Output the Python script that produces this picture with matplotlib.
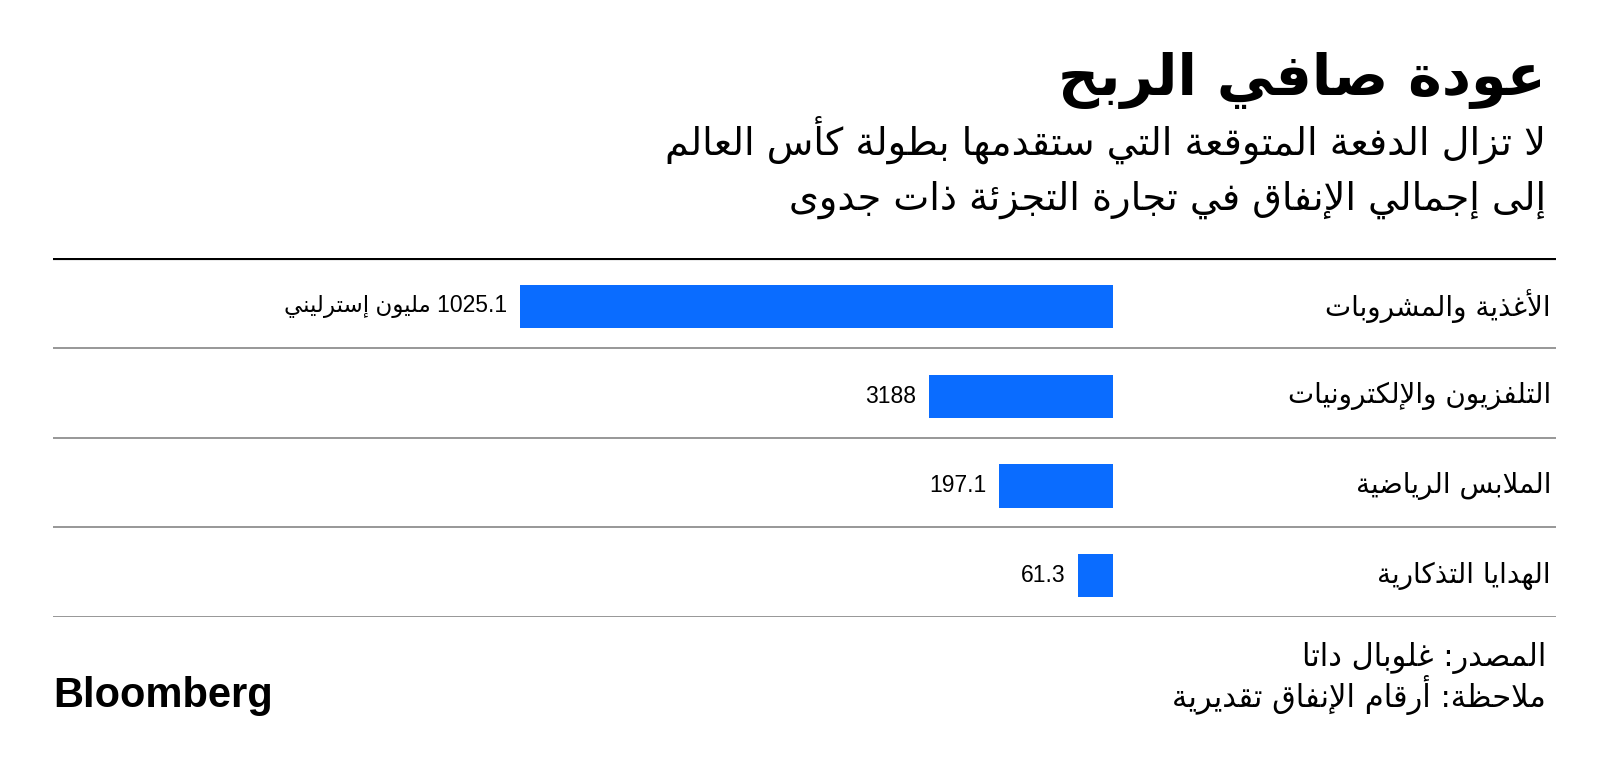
import re
import matplotlib
matplotlib.use("Agg")
import matplotlib.pyplot as plt

categories = ["الأغذية والمشروبات", "التلفزيون والإلكترونيات", "الملابس الرياضية", "الهدايا التذكارية"]
values = [1025.1, 318.8, 197.1, 61.3]
value_labels = ["1025.1 مليون إسترليني", "3188", "197.1", "61.3"]

title = "عودة صافي الربح"
subtitle = ["لا تزال الدفعة المتوقعة التي ستقدمها بطولة كأس العالم",
            "إلى إجمالي الإنفاق في تجارة التجزئة ذات جدوى"]
source = "المصدر: غلوبال داتا"
note = "ملاحظة: أرقام الإنفاق تقديرية"

BLUE = "#0a6cff"

# matplotlib does no arabic shaping / bidi, so map letters to presentation forms by hand
# (char, first presentation form, number of forms)
_table = [
    ("\u0621", 0xFE80, 1), ("\u0622", 0xFE81, 2), ("\u0623", 0xFE83, 2), ("\u0624", 0xFE85, 2),
    ("\u0625", 0xFE87, 2), ("\u0626", 0xFE89, 4), ("\u0627", 0xFE8D, 2), ("\u0628", 0xFE8F, 4),
    ("\u0629", 0xFE93, 2), ("\u062A", 0xFE95, 4), ("\u062B", 0xFE99, 4), ("\u062C", 0xFE9D, 4),
    ("\u062D", 0xFEA1, 4), ("\u062E", 0xFEA5, 4), ("\u062F", 0xFEA9, 2), ("\u0630", 0xFEAB, 2),
    ("\u0631", 0xFEAD, 2), ("\u0632", 0xFEAF, 2), ("\u0633", 0xFEB1, 4), ("\u0634", 0xFEB5, 4),
    ("\u0635", 0xFEB9, 4), ("\u0636", 0xFEBD, 4), ("\u0637", 0xFEC1, 4), ("\u0638", 0xFEC5, 4),
    ("\u0639", 0xFEC9, 4), ("\u063A", 0xFECD, 4), ("\u0641", 0xFED1, 4), ("\u0642", 0xFED5, 4),
    ("\u0643", 0xFED9, 4), ("\u0644", 0xFEDD, 4), ("\u0645", 0xFEE1, 4), ("\u0646", 0xFEE5, 4),
    ("\u0647", 0xFEE9, 4), ("\u0648", 0xFEED, 2), ("\u0649", 0xFEEF, 2), ("\u064A", 0xFEF1, 4),
]
FORMS = {c: tuple(b + k for k in range(n)) for c, b, n in _table}
LAM_ALEF = {"\u0622": 0xFEF5, "\u0623": 0xFEF7, "\u0625": 0xFEF9, "\u0627": 0xFEFB}


def ar(text):
    tokens = []
    i = 0
    while i < len(text):
        if text[i] == "\u0644" and i + 1 < len(text) and text[i + 1] in LAM_ALEF:
            b = LAM_ALEF[text[i + 1]]
            tokens.append((text[i:i + 2], (b, b + 1)))
            i += 2
        else:
            tokens.append((text[i], FORMS.get(text[i])))
            i += 1
    out = []
    for k, (ch, f) in enumerate(tokens):
        if f is None:
            out.append(ch)
            continue
        prev = tokens[k - 1][1] if k > 0 else None
        nxt = tokens[k + 1][1] if k + 1 < len(tokens) else None
        jp = prev is not None and len(prev) == 4
        jn = len(f) == 4 and nxt is not None and len(nxt) > 1
        if jp and jn:
            out.append(chr(f[3]))
        elif jp:
            out.append(chr(f[1]))
        elif jn:
            out.append(chr(f[2]))
        else:
            out.append(chr(f[0]))
    vis = "".join(out)[::-1]
    # numbers stay left to right
    return re.sub(r"[0-9A-Za-z][0-9A-Za-z.,]*", lambda m: m.group(0)[::-1], vis)


plt.rcParams["font.family"] = ["DejaVu Sans"]

fig = plt.figure(figsize=(16, 7.7), dpi=100)
fig.patch.set_facecolor("white")

fig.text(0.9663, 0.877, ar(title), ha="right", va="baseline",
         fontsize=41, fontweight="bold", color="black")
fig.text(0.9663, 0.799, ar(subtitle[0]), ha="right", va="baseline", fontsize=27.5, color="black")
fig.text(0.9663, 0.728, ar(subtitle[1]), ha="right", va="baseline", fontsize=27.5, color="black")

ax = fig.add_axes([0.033125, 0.1987, 0.939375, 0.46623])
y = [i + 0.04 for i in range(len(categories))]
ax.barh(y, values, height=0.48, color=BLUE)
ax.set_xlim(values[0] * 1.7875, -values[0] * 0.747)
ax.set_ylim(len(categories) - 0.5, -0.5)

for yi, cat, v, lab in zip(y, categories, values, value_labels):
    ax.text(0.9967, yi, ar(cat), transform=ax.get_yaxis_transform(),
            ha="right", va="center", fontsize=20, color="black")
    ax.annotate(ar(lab), xy=(v, yi), xytext=(-9, 0), textcoords="offset points",
                ha="right", va="center", fontsize=16.5, color="black",
                family=["Liberation Sans", "DejaVu Sans"])

ax.axhline(-0.5, color="black", lw=3)
for k in range(len(categories)):
    ax.axhline(k + 0.5, color="#7a7a7a", lw=1.1)

for s in ax.spines.values():
    s.set_visible(False)
ax.set_xticks([])
ax.set_yticks([])

fig.text(0.9663, 0.135, ar(source), ha="right", va="baseline", fontsize=22, color="black")
fig.text(0.9663, 0.082, ar(note), ha="right", va="baseline", fontsize=22, color="black")
fig.text(0.033, 0.082, "Bloomberg", ha="left", va="baseline", fontsize=30,
         fontweight="bold", family=["Liberation Sans", "DejaVu Sans"], color="black")

fig.savefig("out.png", dpi=100, facecolor="white")
plt.close(fig)
